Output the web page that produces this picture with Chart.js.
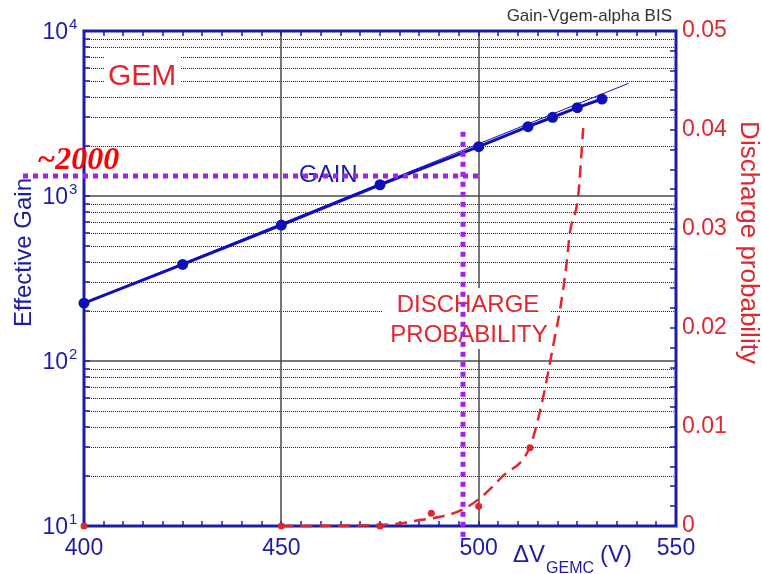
<!DOCTYPE html>
<html>
<head>
<meta charset="utf-8">
<title>Gain-Vgem-alpha BIS</title>
<script src="https://cdn.jsdelivr.net/npm/chart.js@4.4.1/dist/chart.umd.min.js"></script>
<style>
  html, body { margin: 0; padding: 0; background: #ffffff; }
  #wrap { width: 762px; height: 574px; position: relative; }
</style>
</head>
<body>
<div id="wrap"><canvas id="c" width="762" height="574"></canvas></div>
<script>
// Effective gain of the GEM versus the applied voltage
const gainVolts = [400, 425, 450, 475, 500, 512.5, 518.75, 525, 531.25];
const gainValues = [224, 385, 667, 1170, 1990, 2630, 3000, 3430, 3870];

// exponential fit of the gain curve
const fitVolts = [400, 538];
const fitGain = [224, 4820];

// measured discharge probability
const dischargeVolts = [400, 450, 475, 488, 500, 513];
const dischargeValues = [0, 0, 0, 0.0013, 0.0020, 0.0079];

// trend drawn through the discharge measurements
const trendVolts = [450, 475, 481, 485, 490, 495.6, 500.3, 506, 513, 516, 517.6, 519.3, 520.6, 522.3, 523.1, 525.2, 526.5];
const trendValues = [0, 0.0001, 0.0003, 0.0006, 0.0009, 0.0016, 0.0028, 0.005, 0.008, 0.0124, 0.0155, 0.0191, 0.0218, 0.0266, 0.0296, 0.0333, 0.0402];

// axis ticks
const voltTicks = [400, 450, 500, 550];
const gainDecades = [1, 2, 3, 4];
const probTicks = [0, 0.01, 0.02, 0.03, 0.04, 0.05];

// operating point guide (gain ~2000)
const workVolt = 496;
const workGain = 1320;
const workVoltEnd = 500.5;
const workGainTop = 2450;

const BLUE = '#1c1ca6';
const MARK_BLUE = '#0f0fb8';
const RED = '#e0262e';
const PURPLE = '#a51ff2';
const SANS = '"Liberation Sans", Arial, Helvetica, sans-serif';

const toPts = (xs, ys) => xs.map((v, i) => ({ x: v, y: ys[i] }));

const decor = {
  id: 'decor',
  beforeDatasetsDraw(chart) {
    const { ctx, chartArea: a, scales: { x, y, y2 } } = chart;
    const seg = (x1, y1, x2, y2p) => { ctx.beginPath(); ctx.moveTo(x1, y1); ctx.lineTo(x2, y2p); ctx.stroke(); };
    ctx.save();

    // dotted minor gridlines of the log axis
    ctx.strokeStyle = '#222';
    ctx.lineWidth = 1;
    ctx.setLineDash([1, 1]);
    for (const d of gainDecades.slice(0, -1)) {
      for (let m = 2; m <= 9; m++) {
        const py = Math.round(y.getPixelForValue(m * Math.pow(10, d))) + 0.5;
        seg(a.left + 3, py, a.right - 2, py);
      }
    }

    // solid major gridlines
    ctx.setLineDash([]);
    ctx.strokeStyle = '#4a4a4a';
    ctx.lineWidth = 1.5;
    for (const d of gainDecades.slice(1, -1)) {
      const py = Math.round(y.getPixelForValue(Math.pow(10, d)));
      seg(a.left, py, a.right, py);
    }
    for (const v of voltTicks.slice(1, -1)) {
      const px = Math.round(x.getPixelForValue(v));
      seg(px, a.top, px, a.bottom);
    }

    // white backing behind the in-plot labels
    ctx.fillStyle = '#ffffff';
    ctx.fillRect(a.left + 20, a.top + 19, 76, 40);
    ctx.fillRect(a.left + 299, a.top + 257, 168, 61);

    // in-plot labels
    ctx.textAlign = 'left';
    ctx.textBaseline = 'alphabetic';
    ctx.fillStyle = RED;
    ctx.font = '30px ' + SANS;
    ctx.fillText('GEM', a.left + 24, a.top + 54);
    ctx.fillStyle = BLUE;
    ctx.font = '24px ' + SANS;
    ctx.fillText('GAIN', a.left + 215, a.top + 151);
    ctx.fillStyle = RED;
    ctx.textAlign = 'center';
    ctx.fillText('DISCHARGE', a.left + 384, a.top + 281);
    ctx.fillText('PROBABILITY', a.left + 385, a.top + 311);

    // frame
    ctx.strokeStyle = BLUE;
    ctx.lineWidth = 3;
    ctx.strokeRect(a.left, a.top, a.right - a.left, a.bottom - a.top);

    // inward ticks
    ctx.lineWidth = 1.5;
    for (let v = 405; v < 550; v += 5) {
      const px = Math.round(x.getPixelForValue(v));
      seg(px, a.bottom, px, a.bottom - 5);
      seg(px, a.top, px, a.top + 5);
    }
    for (const d of gainDecades.slice(0, -1)) {
      for (let m = 1; m <= 9; m++) {
        if (m === 1 && d === gainDecades[0]) continue;
        const py = Math.round(y.getPixelForValue(m * Math.pow(10, d)));
        seg(a.left, py, a.left + 6, py);
      }
    }
    for (let k = 1; k < 25; k++) {
      const py = Math.round(y2.getPixelForValue(k * 0.002));
      seg(a.right, py, a.right - 6, py);
    }
    ctx.restore();
  },
  afterDatasetsDraw(chart) {
    const { ctx, chartArea: a, scales: { x, y } } = chart;
    ctx.save();

    // operating point guide lines
    ctx.strokeStyle = PURPLE;
    ctx.lineWidth = 5;
    ctx.setLineDash([5, 5]);
    const gy = Math.round(y.getPixelForValue(workGain));
    const gx = Math.round(x.getPixelForValue(workVolt));
    ctx.beginPath();
    ctx.moveTo(a.left - 61, gy);
    ctx.lineTo(x.getPixelForValue(workVoltEnd), gy);
    ctx.stroke();
    ctx.beginPath();
    ctx.moveTo(gx, y.getPixelForValue(workGainTop));
    ctx.lineTo(gx, a.bottom + 12);
    ctx.stroke();
    ctx.setLineDash([]);

    ctx.fillStyle = '#ff0000';
    ctx.font = 'italic bold 32px "Liberation Serif", "Times New Roman", serif';
    ctx.textAlign = 'left';
    ctx.textBaseline = 'alphabetic';
    ctx.fillText('~2000', a.left - 47, gy - 7);

    // log axis labels 10^n
    ctx.fillStyle = BLUE;
    for (const d of gainDecades) {
      const py = y.getPixelForValue(Math.pow(10, d));
      ctx.textBaseline = 'middle';
      ctx.textAlign = 'right';
      ctx.font = '23px ' + SANS;
      ctx.fillText('10', a.left - 16, py + 2);
      ctx.textAlign = 'left';
      ctx.font = '15px ' + SANS;
      ctx.fillText(String(d), a.left - 15, py - 6);
    }

    // axis titles
    ctx.textAlign = 'center';
    ctx.textBaseline = 'middle';
    ctx.font = '24px ' + SANS;
    ctx.save();
    ctx.translate(24, (a.top + a.bottom) / 2 - 26);
    ctx.rotate(-Math.PI / 2);
    ctx.fillText('Effective Gain', 0, 0);
    ctx.restore();

    ctx.fillStyle = RED;
    ctx.font = '26px ' + SANS;
    ctx.save();
    ctx.translate(748, (a.top + a.bottom) / 2 - 36);
    ctx.rotate(Math.PI / 2);
    ctx.fillText('Discharge probability', 0, 0);
    ctx.restore();

    ctx.fillStyle = BLUE;
    ctx.textAlign = 'left';
    ctx.textBaseline = 'alphabetic';
    let tx = 513;
    ctx.font = '24px ' + SANS;
    ctx.fillText('\u0394V', tx, 562);
    tx += ctx.measureText('\u0394V').width + 1;
    ctx.font = '16px ' + SANS;
    ctx.fillText('GEMC', tx, 573);
    tx += ctx.measureText('GEMC').width + 6;
    ctx.font = '24px ' + SANS;
    ctx.fillText('(V)', tx, 562);

    // run tag
    ctx.fillStyle = '#333333';
    ctx.font = '17px ' + SANS;
    ctx.textAlign = 'right';
    ctx.fillText('Gain-Vgem-alpha BIS', a.right - 4, 21);
    ctx.restore();
  }
};

new Chart(document.getElementById('c'), {
  type: 'line',
  data: {
    datasets: [
      {
        label: 'Gain fit',
        data: toPts(fitVolts, fitGain),
        yAxisID: 'y',
        borderColor: MARK_BLUE,
        borderWidth: 1,
        pointRadius: 0,
        clip: false
      },
      {
        label: 'Effective gain',
        data: toPts(gainVolts, gainValues),
        yAxisID: 'y',
        borderColor: MARK_BLUE,
        backgroundColor: MARK_BLUE,
        borderWidth: 3,
        pointRadius: 5.5,
        pointBorderWidth: 0,
        clip: false
      },
      {
        label: 'Discharge trend',
        data: toPts(trendVolts, trendValues),
        yAxisID: 'y2',
        borderColor: RED,
        borderWidth: 2.5,
        borderDash: [12, 7],
        pointRadius: 0,
        cubicInterpolationMode: 'monotone',
        clip: false
      },
      {
        label: 'Discharge probability',
        data: toPts(dischargeVolts, dischargeValues),
        yAxisID: 'y2',
        showLine: false,
        backgroundColor: RED,
        borderColor: RED,
        pointRadius: 3.5,
        pointBorderWidth: 0,
        clip: false
      }
    ]
  },
  options: {
    responsive: false,
    animation: false,
    events: [],
    layout: { padding: { top: 31, left: 0, right: 0, bottom: 0 } },
    plugins: { legend: { display: false }, tooltip: { enabled: false } },
    scales: {
      x: {
        type: 'linear',
        min: voltTicks[0],
        max: voltTicks[voltTicks.length - 1],
        afterBuildTicks: s => { s.ticks = voltTicks.map(v => ({ value: v })); },
        afterFit: s => { s.height = 48; },
        grid: { display: false, drawTicks: false },
        border: { display: false },
        ticks: { color: BLUE, font: { family: SANS, size: 23 }, padding: 9, autoSkip: false, maxRotation: 0 }
      },
      y: {
        type: 'logarithmic',
        position: 'left',
        min: Math.pow(10, gainDecades[0]),
        max: Math.pow(10, gainDecades[gainDecades.length - 1]),
        afterFit: s => { s.width = 84; },
        grid: { display: false, drawTicks: false },
        border: { display: false },
        ticks: { display: false }
      },
      y2: {
        type: 'linear',
        position: 'right',
        min: probTicks[0],
        max: probTicks[probTicks.length - 1],
        afterBuildTicks: s => { s.ticks = probTicks.map(v => ({ value: v })); },
        afterFit: s => { s.width = 86; },
        grid: { display: false, drawTicks: false },
        border: { display: false },
        ticks: {
          color: RED,
          font: { family: SANS, size: 23 },
          padding: 6,
          autoSkip: false,
          callback: v => String(+v.toFixed(3))
        }
      }
    }
  },
  plugins: [decor]
});
</script>
</body>
</html>
